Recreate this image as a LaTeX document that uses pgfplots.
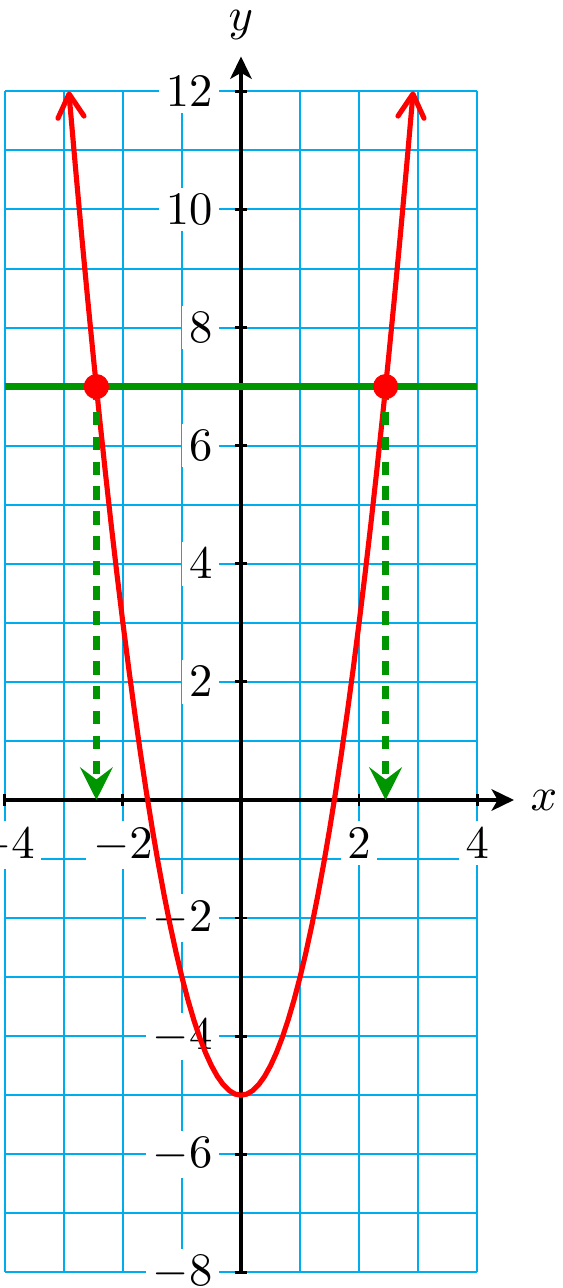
\documentclass[border=0pt]{standalone}
\usepackage{pgfplots}
\pgfplotsset{compat=1.18}
\usetikzlibrary{arrows.meta}
\definecolor{gridcyan}{RGB}{0,172,236}
\definecolor{pgreen}{RGB}{0,150,0}
\definecolor{pred}{RGB}{255,0,0}
\begin{document}
\begin{tikzpicture}
\begin{axis}[
  set layers=standard,
  x=12.68pt, y=12.68pt,
  xmin=-4, xmax=4, ymin=-8, ymax=12,
  enlargelimits=false,
  clip=false,
  axis lines=middle,
  axis line style={line width=0.85pt, black},
  x axis line style={-{Stealth[length=4.8pt,width=4.6pt,inset=1.3pt]}, shorten >=-7.9pt},
  y axis line style={-{Stealth[length=4.8pt,width=4.6pt,inset=1.3pt]}, shorten >=-7.5pt},
  xtick={-4,-2,2,4},
  ytick={-8,-6,-4,-2,2,4,6,8,10,12},
  minor xtick={-3,-1,0,1,3},
  minor ytick={-7,-5,-3,-1,0,1,3,5,7,9,11},
  grid=both,
  grid style={line width=0.43pt, draw=gridcyan},
  major grid style={line width=0.43pt, draw=gridcyan},
  minor grid style={line width=0.43pt, draw=gridcyan},
  tick align=center,
  major tick length=2.6pt,
  minor tick length=0pt,
  tick style={black, line width=0.6pt},
  xticklabel style={fill=white, inner sep=1.45pt, anchor=north, yshift=-3.1pt},
  yticklabel style={fill=white, inner sep=1.45pt, anchor=east, xshift=-3.2pt},
  xlabel={$x$}, ylabel={$y$},
  x label style={at={(axis cs:5.13,0)}, anchor=center},
  y label style={at={(axis cs:0,13.03)}, anchor=base},
]
% parabola y = 2x^2 - 5 (read values)
\addplot[pred, line width=1.1pt,
  {Straight Barb[length=5pt,width=5.6pt,round]}-{Straight Barb[length=5pt,width=5.6pt,round]}]
coordinates {
(-2.915,12.0) (-2.9,11.82) (-2.8,10.68) (-2.7,9.58) (-2.6,8.52) (-2.5,7.5)
(-2.4,6.52) (-2.3,5.58) (-2.2,4.68) (-2.1,3.82) (-2.0,3.0) (-1.9,2.22)
(-1.8,1.48) (-1.7,0.78) (-1.6,0.12) (-1.5,-0.5) (-1.4,-1.08) (-1.3,-1.62)
(-1.2,-2.12) (-1.1,-2.58) (-1.0,-3.0) (-0.9,-3.38) (-0.8,-3.72) (-0.7,-4.02)
(-0.6,-4.28) (-0.5,-4.5) (-0.4,-4.68) (-0.3,-4.82) (-0.2,-4.92) (-0.1,-4.98)
(0,-5)
(0.1,-4.98) (0.2,-4.92) (0.3,-4.82) (0.4,-4.68) (0.5,-4.5) (0.6,-4.28)
(0.7,-4.02) (0.8,-3.72) (0.9,-3.38) (1.0,-3.0) (1.1,-2.58) (1.2,-2.12)
(1.3,-1.62) (1.4,-1.08) (1.5,-0.5) (1.6,0.12) (1.7,0.78) (1.8,1.48)
(1.9,2.22) (2.0,3.0) (2.1,3.82) (2.2,4.68) (2.3,5.58) (2.4,6.52)
(2.5,7.5) (2.6,8.52) (2.7,9.58) (2.8,10.68) (2.9,11.82) (2.915,12.0)
};
% horizontal line y = 7
\addplot[pgreen, line width=1.5pt] coordinates {(-4,7) (4,7)};
% dashed drop lines
\addplot[pgreen, line width=1.4pt, dash pattern=on 2.86pt off 2.5pt,
  -{Stealth[length=7pt,width=7pt,inset=2.6pt]}]
  coordinates {(-2.449,7) (-2.449,0)};
\addplot[pgreen, line width=1.4pt, dash pattern=on 2.86pt off 2.5pt,
  -{Stealth[length=7pt,width=7pt,inset=2.6pt]}]
  coordinates {(2.449,7) (2.449,0)};
% intersection points
\addplot[only marks, mark=*, mark size=2.6pt, pred, mark options={line width=0.2pt}]
  coordinates {(-2.449,7) (2.449,7)};
\coordinate (bbSW) at (axis cs:-4.081,-8.264);
\coordinate (bbNE) at (axis cs:5.453,13.548);
\end{axis}
\pgfresetboundingbox
\path[use as bounding box] (bbSW) rectangle (bbNE);
\end{tikzpicture}
\end{document}
